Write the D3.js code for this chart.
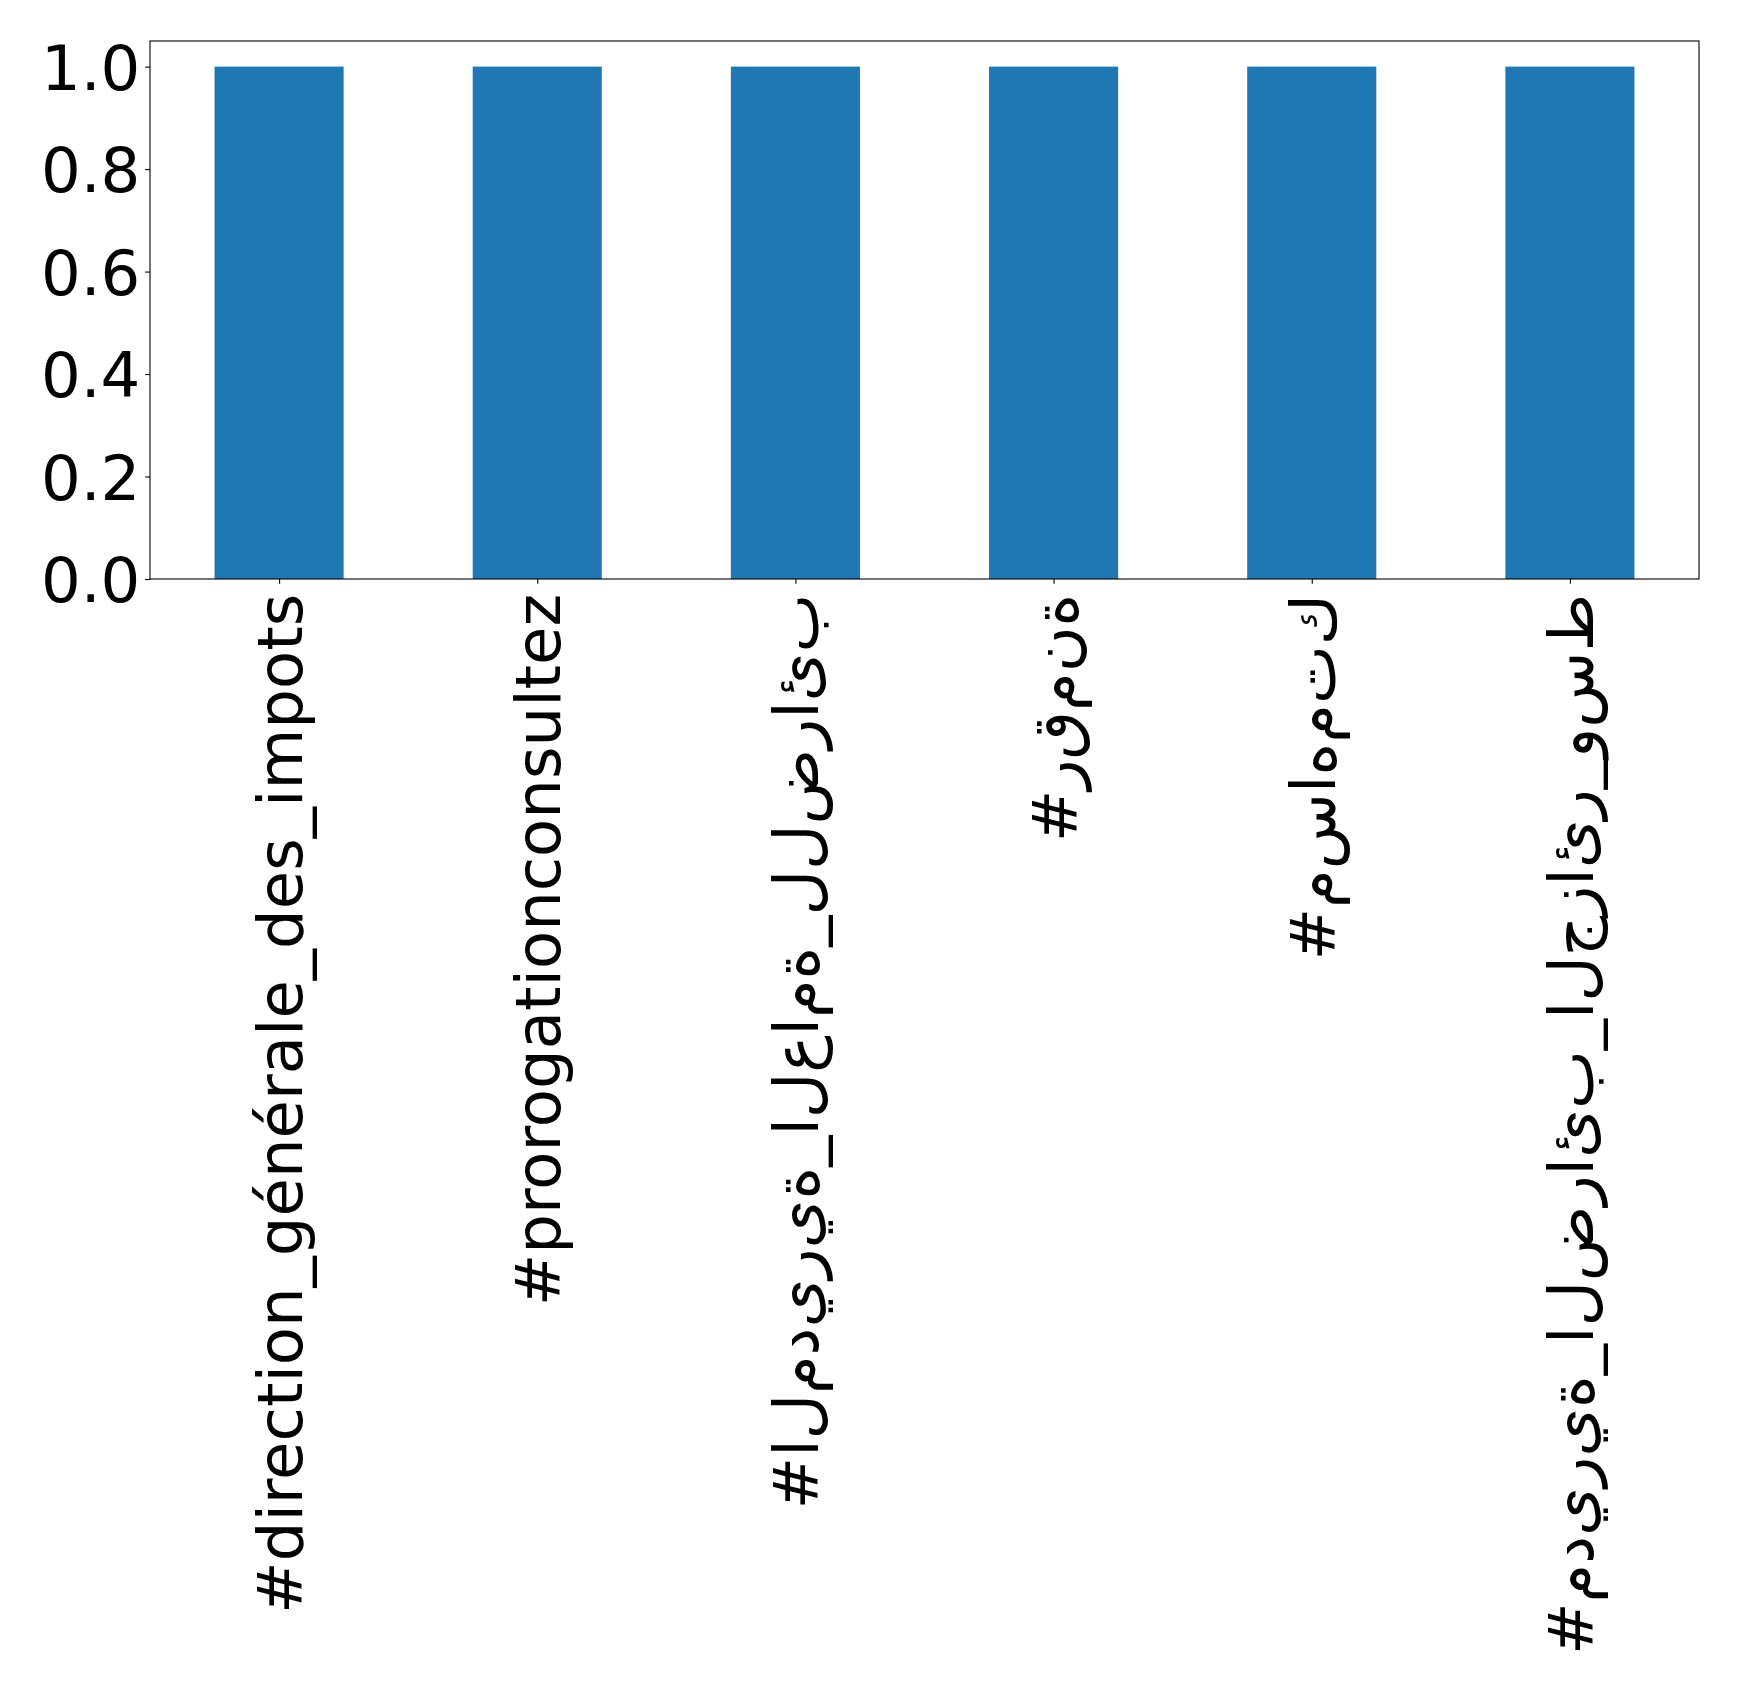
<!DOCTYPE html>
<html>
<head>
<meta charset="utf-8">
<script src="https://cdn.jsdelivr.net/npm/d3@7"></script>
<style>
  html, body { margin: 0; padding: 0; background: #fff; }
  svg { display: block; }
  text { font-family: "DejaVu Sans", sans-serif; fill: #000; }
</style>
</head>
<body>
<div id="chart"></div>
<script>
// ---- data ----
const categories = [
  "#direction_générale_des_impots",
  "#prorogationconsultez",
  "#المديرية_العامة_للضرائب",
  "#رقمنة",
  "#مساهمتك",
  "#مديرية_الضرائب_الجزائر_وسط"
];
const values = [1, 1, 1, 1, 1, 1];
const yTicks = [0.0, 0.2, 0.4, 0.6, 0.8, 1.0];

// ---- layout ----
const W = 1739, H = 1690;
const margin = { left: 150, right: 40, top: 41, bottom: 1111 };
const iw = W - margin.left - margin.right;
const ih = H - margin.top - margin.bottom;
const fontPx = 62.5;
const tickLen = 4.86, tickPad = 4.86;

const svg = d3.select("#chart").append("svg")
  .attr("width", W).attr("height", H);
const g = svg.append("g").attr("transform", `translate(${margin.left},${margin.top})`);

// categorical axis like matplotlib: xlim -0.5 .. n-0.5, bar width 0.5
const x = d3.scaleLinear().domain([-0.5, categories.length - 0.5]).range([0, iw]);
const y = d3.scaleLinear().domain([0, 1.05]).range([ih, 0]);

// bars
g.selectAll("rect.bar").data(values).join("rect")
  .attr("class", "bar")
  .attr("x", (d, i) => x(i - 0.25))
  .attr("width", (d, i) => x(i + 0.25) - x(i - 0.25))
  .attr("y", d => y(d))
  .attr("height", d => y(0) - y(d))
  .attr("fill", "#1f77b4");

// Render labels in matplotlib style: unshaped letters, logical order left-to-right
function unshaped(s) {
  if (!/[\u0600-\u06FF]/.test(s)) return s;
  return "\u202D" + Array.from(s).join("\u200C") + "\u202C";
}

// y axis
const yAxis = d3.axisLeft(y).tickValues(yTicks).tickFormat(d3.format(".1f"))
  .tickSize(tickLen).tickPadding(tickPad);
const ya = g.append("g").call(yAxis);
ya.select(".domain").remove();
ya.selectAll(".tick line").attr("stroke", "#000").attr("stroke-width", 1.1);
ya.selectAll(".tick text").attr("font-size", fontPx).attr("font-family", "DejaVu Sans")
  .attr("dy", "0.36em").attr("fill", "#000");

// x axis
const xAxis = d3.axisBottom(x).tickValues(d3.range(categories.length))
  .tickFormat(i => unshaped(categories[i])).tickSize(tickLen).tickPadding(tickPad);
const xa = g.append("g").attr("transform", `translate(0,${ih})`).call(xAxis);
xa.select(".domain").remove();
xa.selectAll(".tick line").attr("stroke", "#000").attr("stroke-width", 1.1);
xa.selectAll(".tick text")
  .attr("font-size", fontPx).attr("font-family", "DejaVu Sans").attr("fill", "#000")
  .attr("text-anchor", "end")
  .attr("transform", `translate(0,${tickLen + tickPad + 5}) rotate(-90)`)
  .attr("x", 0).attr("y", 0).attr("dy", "0.36em");

// frame (spines)
g.append("rect").attr("x", 0).attr("y", 0).attr("width", iw).attr("height", ih)
  .attr("fill", "none").attr("stroke", "#000").attr("stroke-width", 1.1);
</script>
</body>
</html>
